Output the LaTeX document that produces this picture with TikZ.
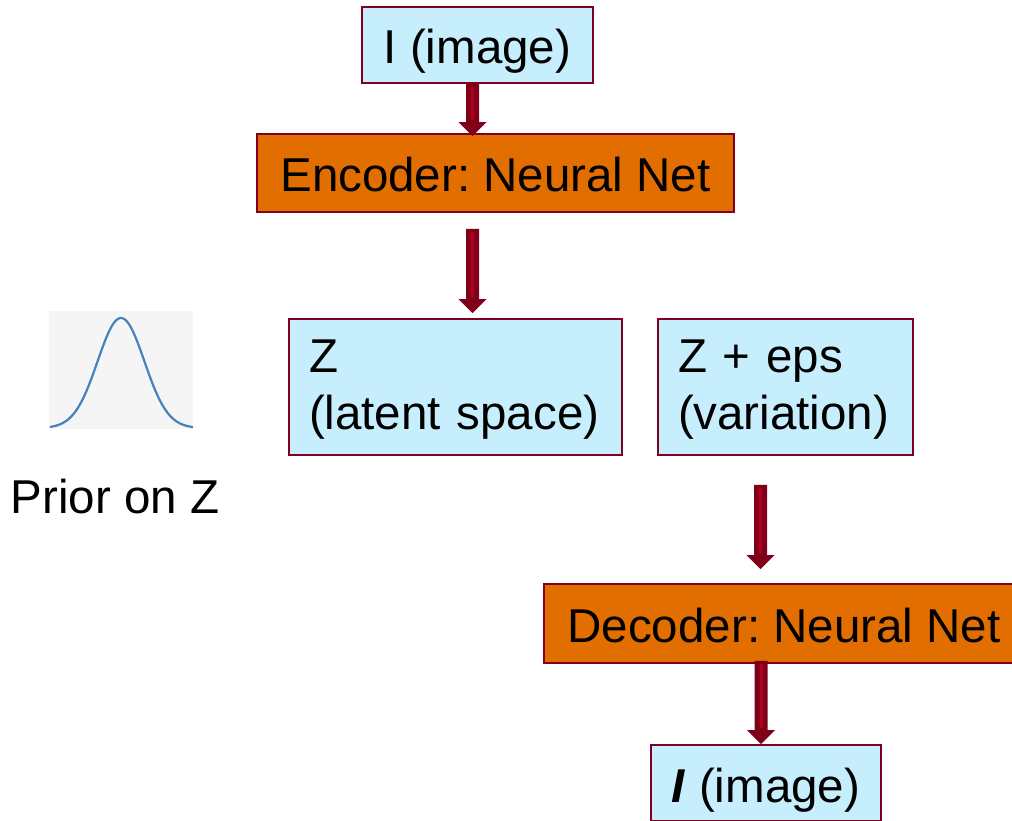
\documentclass[tikz,border=0pt]{standalone}
\usepackage{fontspec}
\setmainfont{Liberation Sans}
\usetikzlibrary{calc}
\frenchspacing
\definecolor{boxblue}{RGB}{198,238,252}
\definecolor{boxorange}{RGB}{226,110,0}
\definecolor{boxborder}{RGB}{128,0,32}
\definecolor{arrowdark}{RGB}{128,0,24}
\definecolor{arrowlight}{RGB}{175,0,35}
\definecolor{curveblue}{RGB}{70,130,192}
\definecolor{checkgray}{RGB}{245,245,245}
\newcommand{\blockarrow}[2]{%
  \fill[arrowdark] let \p1=#1, \p2=#2 in
    (\x1-6.5pt,\y1) -- (\x1-6.5pt,\y2+14pt) -- (\x1-14pt,\y2+14pt) -- (\x1,\y2)
    -- (\x1+14pt,\y2+14pt) -- (\x1+6.5pt,\y2+14pt) -- (\x1+6.5pt,\y1) -- cycle;
  \draw[arrowlight, line width=3pt] let \p1=#1, \p2=#2 in
    (\x1,\y1-3pt) -- (\x1,\y2+16pt);
}
\begin{document}
\begin{tikzpicture}[x=1pt,y=-1pt,
  every node/.style={font=\fontsize{47.5}{57}\selectfont, text=black},
  bluebox/.style={draw=boxborder, line width=1.8pt, fill=boxblue, inner sep=0pt},
  orangebox/.style={draw=boxborder, line width=1.8pt, fill=boxorange, inner sep=0pt},
  oneline/.style={text height=38pt, text depth=0pt},
  twoline/.style={bluebox, align=left, inner xsep=20pt, minimum height=136pt, text depth=61pt}
]
\useasboundingbox (0,0) rectangle (1012,821);
\clip (0,0) rectangle (1012,821);
\fill[white] (0,0) rectangle (1012,821);

% prior curve
\fill[checkgray] (49,311) rectangle (193,429);
\draw[curveblue, line width=2.2pt] plot[domain=50:193, samples=120, smooth]
  (\x, {428-110*exp(-((\x-121)*(\x-121))/1095)});
\node[anchor=base] (prior) at (115,513) {Prior on Z};

% boxes
\node[bluebox, oneline, minimum width=231pt, minimum height=76pt] (top) at (477.5,45) {I (image)};
\node[orangebox, oneline, minimum width=477pt, minimum height=78pt] (enc) at (495.5,173) {Encoder: Neural Net};
\node[twoline, text width=293pt] (zbox) at (455.5,387) {Z\\(latent space)};
\node[twoline, text width=215pt] (zeps) at (785.5,387) {Z + eps\\(variation)};
\node[orangebox, oneline, minimum width=480pt, minimum height=79pt] (dec) at (784,623.5) {Decoder: Neural Net};
\node[bluebox, oneline, minimum width=230pt, minimum height=76pt] (out) at (766,783) {\textbf{\textit{I}} (image)};

% arrows
\blockarrow{($(top.south)+(-5,0)$)}{($(enc.north)+(-23,3)$)}
\blockarrow{($(enc.south)+(-23,16)$)}{($(zbox.north)+(17,-5)$)}
\blockarrow{($(zeps.south)+(-25,29)$)}{($(dec.north)+(-23.5,-14)$)}
\blockarrow{($(dec.south)+(-23,-3)$)}{($(out.north)+(-5,0)$)}
\end{tikzpicture}
\end{document}
